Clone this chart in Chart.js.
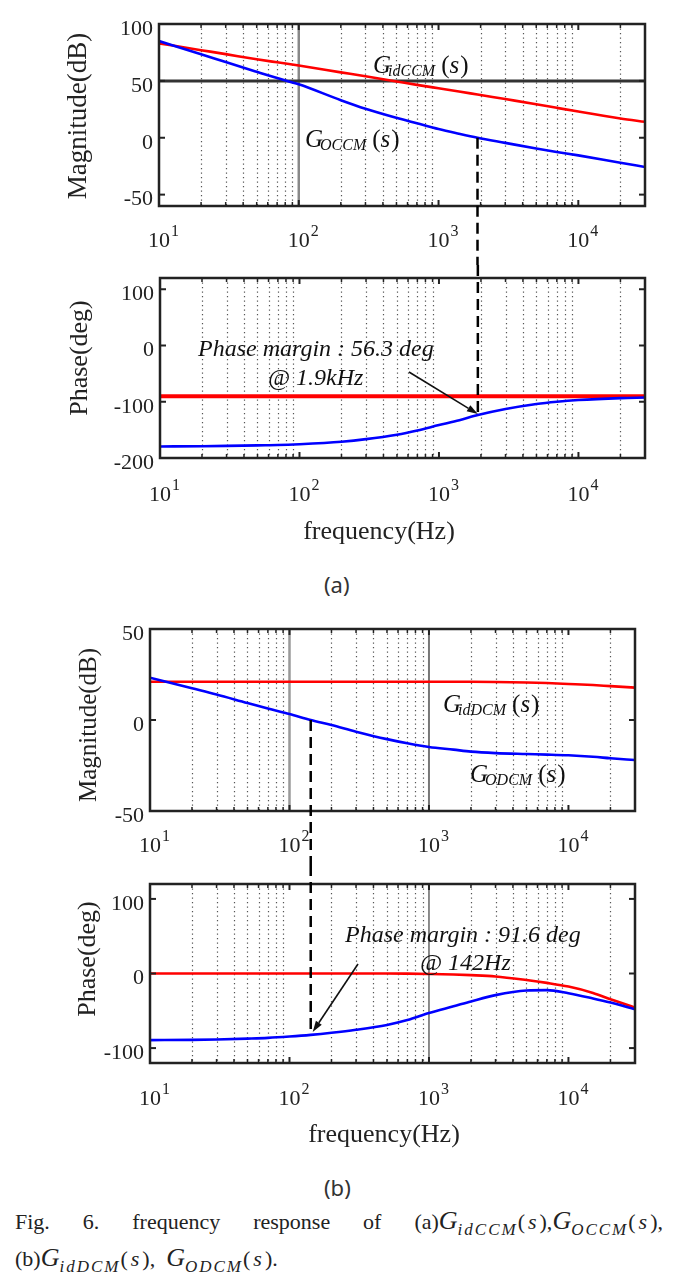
<!DOCTYPE html>
<html>
<head>
<meta charset="utf-8">
<title>Fig. 6 frequency response</title>
<script src="https://cdn.jsdelivr.net/npm/chart.js@4.4.0/dist/chart.umd.min.js"></script>
<style>
  body { margin: 0; background: #fff; }
  #page { position: relative; width: 683px; height: 1285px; overflow: hidden; background: #fff; }
  canvas { position: absolute; left: 0; }
  .sublabel { position: absolute; left: 324px; font-family: 'Noto Sans', sans-serif; font-size: 22px; line-height: 26px; color: #333; }
  .cap { position: absolute; left: 15px; font-family: 'Liberation Serif', serif; font-size: 22px; line-height: 26px; color: #222; }
  .cap .g { font-style: italic; font-size: 26px; }
  .cap .sb { font-style: italic; font-size: 17px; letter-spacing: 2px; position: relative; top: 6px; }
  .cap .s { font-style: italic; margin: 0 3px; }
</style>
</head>
<body>
<div id="page">
  <canvas id="magA" width="683" height="265" style="top:0px"></canvas>
  <canvas id="phaseA" width="683" height="285" style="top:265px"></canvas>
  <div class="sublabel" style="top:571px">(a)</div>
  <canvas id="magB" width="683" height="265" style="top:600px"></canvas>
  <canvas id="phaseB" width="683" height="290" style="top:865px"></canvas>
  <div class="sublabel" style="top:1174px">(b)</div>
  <div class="cap" style="top:1208px; width:648px; text-align:justify; text-align-last:justify;">Fig. 6. frequency response of (a)<span class="g">G</span><span class="sb">idCCM</span>(<span class="s">s</span>),<span class="g">G</span><span class="sb">OCCM</span>(<span class="s">s</span>),</div>
  <div class="cap" style="top:1245px;">(b)<span class="g">G</span><span class="sb">idDCM</span>(<span class="s">s</span>),&nbsp; <span class="g">G</span><span class="sb">ODCM</span>(<span class="s">s</span>).</div>
</div>

<script>
// ---- data ----
// (a) CCM
const freqA = [10, 20, 30, 50, 70, 100, 200, 300, 500, 700, 1000, 1400, 1900, 3000, 5000, 7000, 10000, 20000, 30000];
const magGidCCM = [83, 77, 73.5, 69, 66.3, 63.5, 57.5, 54, 49.5, 46.5, 43.5, 40.7, 38, 34, 29.5, 26.3, 23, 17, 14];
const magGoCCM = [85, 73.5, 66.5, 58, 52.5, 47, 33, 25.5, 17.5, 12.7, 7.6, 3.5, 0, -4.5, -9.5, -12.5, -15.5, -22, -25.7];
const phaseGidCCM = [-90, -90, -90, -90, -90, -90, -90, -90, -90, -90, -90, -90, -90, -90, -90, -90, -90, -90, -90];
const phaseGoCCM = [-179.5, -179, -178.5, -177.5, -177, -175.5, -171, -166.5, -158.5, -151, -141.5, -132.8, -123.7, -113, -104, -100, -97, -93.6, -92.5];

// (b) DCM
const freqB = [10, 20, 30, 50, 70, 100, 142, 200, 300, 500, 700, 1000, 1500, 2000, 3000, 5000, 7000, 10000, 15000, 20000, 30000];
const magGidDCM = [21, 21, 21, 21, 21, 21, 21, 21, 21, 21, 21, 21, 21, 21, 20.9, 20.6, 20.3, 19.8, 19.2, 18.6, 17.8];
const magGoDCM = [23.2, 17.4, 14, 9.3, 6.3, 3.3, 0, -2.8, -6.4, -10.5, -12.8, -14.8, -16.3, -17.4, -18.2, -18.7, -19, -19.4, -20.2, -21, -22];
const phaseGidDCM = [0, 0, 0, 0, 0, 0, 0, 0, 0, 0, -0.2, -0.6, -1.3, -2.2, -4, -8.8, -12.6, -17.5, -26, -34.5, -45.7];
const phaseGoDCM = [-89.3, -89, -88.5, -87.3, -86.3, -84.5, -82.3, -79.5, -75.5, -69, -62.5, -53, -44, -37.5, -29, -22.8, -22.3, -26.5, -33.5, -39, -48];

// crossover frequencies (dashed markers) and phase margin notes
const crossoverFreqs = [1900, 142];
const marginNotes = ['Phase margin : 56.3 deg', 'Phase margin : 91.6 deg'];
const marginFreqNotes = ['@ 1.9kHz', '@ 142Hz'];

// axis ticks
const freqDecades = [10, 100, 1000, 10000];
const minorSteps = [2, 3, 4, 5, 6, 7, 8, 9];
const magTicksA = [-50, 0, 50, 100];
const phaseTicksA = [-200, -100, 0, 100];
const magTicksB = [-50, 0, 50];
const phaseTicksB = [-100, 0, 100];

const RED = '#ff0000';
const BLUE = '#0000ff';
const SERIF = '"Liberation Serif", "Times New Roman", serif';

// extra drawing for each panel (texts, reference lines, markers)
const deco = {
  magA: {
    yTitle: { text: 'Magnitude(dB)', x: 79, y: 116, size: 27 },
    xLabelBase: 247,
    hLines: [{ value: 50, color: '#333', width: 3 }],
    vLines: [{ value: 100, color: '#888', width: 2.5 }],
    marker: { freq: crossoverFreqs[0], fromValue: 0 },
    tfs: [{ sub: 'idCCM', x: 373, y: 73 }, { sub: 'OCCM', x: 305, y: 147 }]
  },
  phaseA: {
    yTitle: { text: 'Phase(deg)', x: 80, y: 93, size: 26 },
    xLabelBase: 236,
    xTitle: { text: 'frequency(Hz)', x: 379, y: 274 },
    marker: { freq: crossoverFreqs[0], toValue: phaseGoCCM[freqA.indexOf(crossoverFreqs[0])] },
    arrow: { tail: [409, 107], off: [0, -1] },
    texts: [{ t: marginNotes[0], x: 198, y: 91 }, { t: marginFreqNotes[0], x: 268, y: 120 }]
  },
  magB: {
    yTitle: { text: 'Magnitude(dB)', x: 89, y: 125, size: 25 },
    xLabelBase: 252,
    vLines: [{ value: 100, color: '#999', width: 2.5 }, { value: 1000, color: '#777', width: 2 }],
    marker: { freq: crossoverFreqs[1], fromValue: 0 },
    tfs: [{ sub: 'idDCM', x: 443, y: 112 }, { sub: 'ODCM', x: 470, y: 182 }]
  },
  phaseB: {
    yTitle: { text: 'Phase(deg)', x: 88, y: 94, size: 26 },
    xLabelBase: 240,
    xTitle: { text: 'frequency(Hz)', x: 384, y: 277 },
    vLines: [{ value: 1000, color: '#666', width: 1.5 }],
    marker: { freq: crossoverFreqs[1], toValue: phaseGoDCM[freqB.indexOf(crossoverFreqs[1])] },
    arrow: { tail: [358, 99], off: [2, -3] },
    texts: [{ t: marginNotes[1], x: 345, y: 77 }, { t: marginFreqNotes[1], x: 420, y: 105 }]
  }
};

function strokeLine(ctx, x0, y0, x1, y1) {
  ctx.beginPath();
  ctx.moveTo(x0, y0);
  ctx.lineTo(x1, y1);
  ctx.stroke();
}

function drawArrow(ctx, x0, y0, x1, y1) {
  const ang = Math.atan2(y1 - y0, x1 - x0), L = 11, W = 3.5;
  const bx = x1 - L * Math.cos(ang), by = y1 - L * Math.sin(ang);
  ctx.strokeStyle = '#111';
  ctx.fillStyle = '#111';
  ctx.lineWidth = 1.6;
  strokeLine(ctx, x0, y0, bx, by);
  ctx.beginPath();
  ctx.moveTo(x1, y1);
  ctx.lineTo(bx + W * Math.sin(ang), by - W * Math.cos(ang));
  ctx.lineTo(bx - W * Math.sin(ang), by + W * Math.cos(ang));
  ctx.closePath();
  ctx.fill();
}

// G_xxx (s) transfer function label
function drawTF(ctx, sub, x, y) {
  ctx.fillStyle = '#111';
  ctx.textAlign = 'left';
  ctx.textBaseline = 'alphabetic';
  ctx.font = 'italic 25px ' + SERIF;
  ctx.fillText('G', x, y);
  let cx = x + ctx.measureText('G').width - 3;
  ctx.font = 'italic 16px ' + SERIF;
  ctx.fillText(sub, cx, y + 3);
  cx += ctx.measureText(sub).width + 6;
  ctx.font = '25px ' + SERIF;
  ctx.fillText('(', cx, y);
  cx += ctx.measureText('(').width;
  ctx.font = 'italic 25px ' + SERIF;
  ctx.fillText('s', cx, y);
  cx += ctx.measureText('s').width + 1;
  ctx.font = '25px ' + SERIF;
  ctx.fillText(')', cx, y);
}

const bodeDeco = {
  id: 'bodeDeco',
  beforeDatasetsDraw(chart) {
    const d = deco[chart.canvas.id];
    const ctx = chart.ctx, a = chart.chartArea, x = chart.scales.x, y = chart.scales.y;
    ctx.save();
    // dotted grid on the minor log positions
    ctx.strokeStyle = '#555';
    ctx.lineWidth = 1.2;
    ctx.setLineDash([1.3, 3.2]);
    freqDecades.forEach(dec => minorSteps.forEach(k => {
      const f = dec * k;
      if (f >= x.max) return;
      const px = Math.round(x.getPixelForValue(f)) + 0.5;
      strokeLine(ctx, px, a.top, px, a.bottom);
    }));
    ctx.setLineDash([]);
    (d.vLines || []).forEach(l => {
      const px = x.getPixelForValue(l.value);
      ctx.strokeStyle = l.color;
      ctx.lineWidth = l.width;
      strokeLine(ctx, px, a.top, px, a.bottom);
    });
    (d.hLines || []).forEach(l => {
      const py = y.getPixelForValue(l.value);
      ctx.strokeStyle = l.color;
      ctx.lineWidth = l.width;
      strokeLine(ctx, a.left, py, a.right, py);
    });
    ctx.restore();
  },
  afterDatasetsDraw(chart) {
    const d = deco[chart.canvas.id];
    const ctx = chart.ctx, a = chart.chartArea, x = chart.scales.x, y = chart.scales.y;
    ctx.save();

    // frame and inward ticks
    ctx.strokeStyle = '#222';
    ctx.lineWidth = 2.5;
    ctx.strokeRect(a.left, a.top, a.right - a.left, a.bottom - a.top);
    ctx.lineWidth = 2;
    y.ticks.forEach(t => {
      const py = y.getPixelForValue(t.value);
      strokeLine(ctx, a.left, py, a.left + 6, py);
      strokeLine(ctx, a.right, py, a.right - 6, py);
    });
    freqDecades.forEach(dec => {
      const px = x.getPixelForValue(dec);
      ctx.lineWidth = 2;
      strokeLine(ctx, px, a.top, px, a.top + 6);
      strokeLine(ctx, px, a.bottom, px, a.bottom - 6);
      ctx.lineWidth = 1.5;
      minorSteps.forEach(k => {
        if (dec * k >= x.max) return;
        const pm = x.getPixelForValue(dec * k);
        strokeLine(ctx, pm, a.top, pm, a.top + 4);
        strokeLine(ctx, pm, a.bottom, pm, a.bottom - 4);
      });
    });

    // crossover marker (dashed)
    if (d.marker) {
      const px = x.getPixelForValue(d.marker.freq);
      const y0 = d.marker.fromValue !== undefined ? y.getPixelForValue(d.marker.fromValue) : 0;
      const y1 = d.marker.toValue !== undefined ? y.getPixelForValue(d.marker.toValue) : chart.height;
      ctx.strokeStyle = '#000';
      ctx.lineWidth = 2.5;
      ctx.setLineDash([11, 6]);
      strokeLine(ctx, px, y0, px, y1);
      ctx.setLineDash([]);
      if (d.arrow) {
        drawArrow(ctx, d.arrow.tail[0], d.arrow.tail[1], px + d.arrow.off[0], y1 + d.arrow.off[1]);
      }
    }

    // x tick labels 10^n
    ctx.fillStyle = '#222';
    ctx.textBaseline = 'alphabetic';
    freqDecades.forEach(dec => {
      const px = x.getPixelForValue(dec);
      ctx.font = '22px ' + SERIF;
      ctx.textAlign = 'center';
      ctx.fillText('10', px, d.xLabelBase);
      const w = ctx.measureText('10').width;
      ctx.font = '16px ' + SERIF;
      ctx.textAlign = 'left';
      ctx.fillText(String(Math.round(Math.log10(dec))), px + w / 2 + 1, d.xLabelBase - 11);
    });

    // axis titles
    ctx.save();
    ctx.translate(d.yTitle.x, d.yTitle.y);
    ctx.rotate(-Math.PI / 2);
    ctx.font = d.yTitle.size + 'px ' + SERIF;
    ctx.textAlign = 'center';
    ctx.textBaseline = 'middle';
    ctx.fillText(d.yTitle.text, 0, 0);
    ctx.restore();
    if (d.xTitle) {
      ctx.font = '26px ' + SERIF;
      ctx.textAlign = 'center';
      ctx.fillText(d.xTitle.text, d.xTitle.x, d.xTitle.y);
    }

    // notes
    (d.texts || []).forEach(t => {
      ctx.fillStyle = '#111';
      ctx.font = 'italic 24px ' + SERIF;
      ctx.textAlign = 'left';
      ctx.fillText(t.t, t.x, t.y);
    });
    (d.tfs || []).forEach(t => drawTF(ctx, t.sub, t.x, t.y));
    ctx.restore();
  }
};

function makeBode(id, cfg) {
  return new Chart(document.getElementById(id), {
    type: 'line',
    data: {
      datasets: cfg.series.map(s => ({
        data: cfg.freqs.map((f, i) => ({ x: f, y: s.values[i] })),
        borderColor: s.color,
        borderWidth: s.width,
        pointRadius: 0,
        fill: false,
        cubicInterpolationMode: 'monotone'
      }))
    },
    options: {
      responsive: false,
      animation: false,
      devicePixelRatio: 1,
      events: [],
      layout: { padding: cfg.padding },
      plugins: { legend: { display: false }, tooltip: { enabled: false } },
      scales: {
        x: {
          type: 'logarithmic', min: 10, max: 30000,
          grid: { display: false, drawTicks: false },
          border: { display: false },
          ticks: { display: false },
          afterFit: s => { s.height = cfg.xHeight; s.paddingLeft = 0; s.paddingRight = 0; }
        },
        y: {
          type: 'linear', min: cfg.yMin, max: cfg.yMax,
          grid: { display: false, drawTicks: false },
          border: { display: false },
          afterBuildTicks: s => { s.ticks = cfg.yTicks.map(v => ({ value: v })); },
          ticks: {
            autoSkip: false, padding: 6, labelOffset: 5, color: '#222',
            font: { family: 'Liberation Serif', size: 22 },
            callback: v => String(v)
          },
          afterFit: s => { s.width = cfg.yWidth; s.paddingTop = 0; s.paddingBottom = 0; }
        }
      }
    },
    plugins: [bodeDeco]
  });
}

// (a) magnitude: plot area 159..645 x 24..206
makeBode('magA', {
  freqs: freqA, yMin: -60, yMax: 100, yTicks: magTicksA,
  padding: { left: 0, right: 38, top: 24, bottom: 0 }, yWidth: 159, xHeight: 59,
  series: [{ values: magGoCCM, color: BLUE, width: 2.6 }, { values: magGidCCM, color: RED, width: 2.6 }]
});
// (a) phase: plot area 160..645 x 13..193
makeBode('phaseA', {
  freqs: freqA, yMin: -200, yMax: 120, yTicks: phaseTicksA,
  padding: { left: 0, right: 38, top: 13, bottom: 0 }, yWidth: 160, xHeight: 92,
  series: [{ values: phaseGoCCM, color: BLUE, width: 2.6 }, { values: phaseGidCCM, color: RED, width: 4 }]
});
// (b) magnitude: plot area 150..635 x 29..211
makeBode('magB', {
  freqs: freqB, yMin: -50, yMax: 50, yTicks: magTicksB,
  padding: { left: 0, right: 48, top: 29, bottom: 0 }, yWidth: 150, xHeight: 54,
  series: [{ values: magGoDCM, color: BLUE, width: 2.6 }, { values: magGidDCM, color: RED, width: 2.6 }]
});
// (b) phase: plot area 150..635 x 19..198
makeBode('phaseB', {
  freqs: freqB, yMin: -120, yMax: 120, yTicks: phaseTicksB,
  padding: { left: 0, right: 48, top: 19, bottom: 0 }, yWidth: 150, xHeight: 92,
  series: [{ values: phaseGoDCM, color: BLUE, width: 2.6 }, { values: phaseGidDCM, color: RED, width: 2.6 }]
});
</script>
</body>
</html>
